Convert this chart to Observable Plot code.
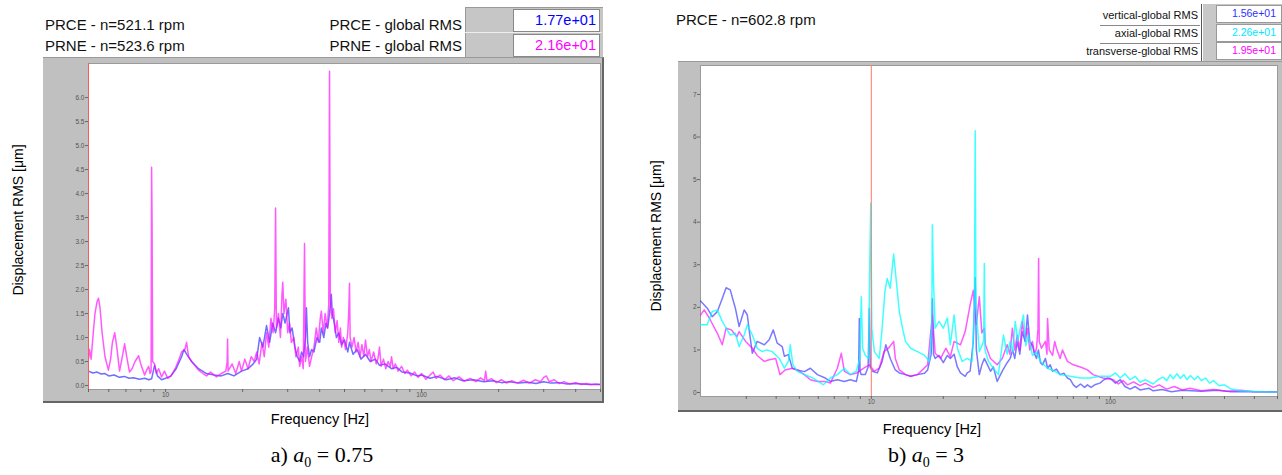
<!DOCTYPE html>
<html><head><meta charset="utf-8">
<script src="https://cdn.jsdelivr.net/npm/d3@7"></script>
<script src="https://cdn.jsdelivr.net/npm/@observablehq/plot@0.6"></script>
<style>
body{margin:0;width:1282px;height:475px;position:relative;background:#fff;font-family:Arial,"Liberation Sans",sans-serif;overflow:hidden}
.t{position:absolute;white-space:nowrap;color:#111;line-height:18px}
.box{position:absolute}
.panel{position:absolute;background:#c0c0c0}
.cap{position:absolute;font-family:"Liberation Serif","Times New Roman",serif;font-size:22px;white-space:nowrap;transform:translateX(-50%)}
.cap sub{font-size:14px}
.ytitle{position:absolute;font-size:14px;white-space:nowrap;transform:translate(-50%,-50%) rotate(-90deg)}
.xtitle{position:absolute;font-size:14.5px;white-space:nowrap;transform:translateX(-50%)}
</style></head><body>

<!-- panel a header -->
<div class="t" style="left:45px;top:16px;font-size:15px">PRCE - n=521.1 rpm</div>
<div class="t" style="left:45px;top:37px;font-size:15px">PRNE - n=523.6 rpm</div>
<div class="t" style="right:820px;top:16px;font-size:15px">PRCE - global RMS</div>
<div class="t" style="right:820px;top:37px;font-size:15px">PRNE - global RMS</div>
<div class="box" style="left:465px;top:7px;width:137px;height:50px;background:#c6c6c6;border-top:1px solid #999;border-left:1px solid #999"></div>
<div class="box" style="left:465px;top:32px;width:137px;height:1px;background:#eee"></div>
<div class="box" style="left:513px;top:9px;width:85px;height:21px;background:#fff;border:1px solid #888"></div>
<div class="box" style="left:513px;top:34px;width:85px;height:21px;background:#fff;border:1px solid #888"></div>
<div class="t" id="va1" style="right:686px;top:11px;font-size:14.5px;color:#0000ff"></div>
<div class="t" id="va2" style="right:686px;top:36px;font-size:14.5px;color:#ff00ff"></div>

<!-- panel b header -->
<div class="t" style="left:676px;top:11px;font-size:15px">PRCE - n=602.8 rpm</div>
<div class="t" style="right:84px;top:6px;font-size:11px">vertical-global RMS</div>
<div class="t" style="right:84px;top:24px;font-size:11px">axial-global RMS</div>
<div class="t" style="right:84px;top:42px;font-size:11px">transverse-global RMS</div>
<div class="box" style="left:1100px;top:25px;width:100px;height:1px;background:#888"></div>
<div class="box" style="left:1100px;top:43px;width:100px;height:1px;background:#888"></div>
<div class="box" style="left:1201px;top:4px;width:1px;height:57px;background:#555"></div>
<div class="box" style="left:1203px;top:4px;width:79px;height:57px;background:#c8c8c8"></div>
<div class="box" style="left:1216px;top:5px;width:64px;height:16px;background:#fff;border:1px solid #999"></div>
<div class="box" style="left:1216px;top:24px;width:64px;height:16px;background:#fff;border:1px solid #999"></div>
<div class="box" style="left:1216px;top:42px;width:64px;height:16px;background:#fff;border:1px solid #999"></div>
<div class="t" id="vb1" style="right:6px;top:4px;font-size:10.5px;color:#3030ff"></div>
<div class="t" id="vb2" style="right:6px;top:23px;font-size:10.5px;color:#00e8ff"></div>
<div class="t" id="vb3" style="right:6px;top:41px;font-size:10.5px;color:#ff00ff"></div>

<div class="panel" id="pa" style="left:43px;top:57px;width:559px;height:343px;border-top:1px solid #999;border-right:2px solid #666;border-bottom:2px solid #666"></div>
<div class="panel" id="pb" style="left:678px;top:61px;width:604px;height:348px;border-top:1px solid #999;border-bottom:2px solid #666"></div>

<div class="ytitle" style="left:18px;top:220px">Displacement RMS [μm]</div>
<div class="ytitle" style="left:656px;top:236px">Displacement RMS [μm]</div>
<div class="xtitle" style="left:320px;top:411px">Frequency [Hz]</div>
<div class="xtitle" style="left:932px;top:421px">Frequency [Hz]</div>
<div class="cap" style="left:322px;top:442px">a) <i>a</i><sub>0</sub> = 0.75</div>
<div class="cap" style="left:926px;top:442px">b) <i>a</i><sub>0</sub> = 3</div>

<script>
// ---------- header values ----------
const rmsA = ["1.77e+01", "2.16e+01"];            // PRCE, PRNE
const rmsB = ["1.56e+01", "2.26e+01", "1.95e+01"]; // vertical, axial, transverse

// ---------- axis ticks ----------
const aYTicks = [0,0.5,1,1.5,2,2.5,3,3.5,4,4.5,5,5.5,6];
const aXTicks = [5,6,7,8,9,10,20,30,40,50,60,70,80,90,100,200,300,400,500];
const bYTicks = [0,1,2,3,4,5,6,7];
const bXTicks = [3,4,5,6,7,8,9,10,20,30,40,50,60,70,80,90,100,200,300,400,500];
const labelledX = [10, 100];

// ---------- panel a: [frequency Hz, displacement RMS um] ----------
const aPRCE = [[5.0,0.3],[5.2,0.26],[5.4,0.28],[5.6,0.24],[5.8,0.25],[6.0,0.2],[6.3,0.22],[6.6,0.17],[6.9,0.19],[7.2,0.15],[7.5,0.16],[7.9,0.13],[8.3,0.15],[8.6,0.12],[8.82,0.14],[9.06,0.42],[9.3,0.2],[9.65,0.12],[10.0,0.15],[10.5,0.2],[11.0,0.35],[11.55,0.6],[11.8,0.75],[12.1,0.65],[12.64,0.5],[13.45,0.35],[14.45,0.25],[15.5,0.22],[16.5,0.2],[17.5,0.25],[18.5,0.2],[19.8,0.3],[21.0,0.35],[22.0,0.45],[22.7,0.55],[23.3,1.0],[24.0,0.8],[24.8,1.25],[25.5,0.9],[26.2,1.3],[26.9,1.1],[27.6,1.4],[28.2,1.2],[28.7,1.5],[29.3,1.3],[30.2,1.62],[30.6,1.1],[31.2,1.2],[32.0,0.8],[32.7,0.6],[33.4,0.5],[34.0,0.7],[34.6,0.6],[35.2,1.0],[35.5,1.62],[35.9,0.9],[36.5,0.6],[37.2,0.75],[38.0,0.7],[39.0,1.0],[40.0,0.9],[40.6,1.2],[41.5,1.0],[42.3,1.3],[43.0,1.2],[43.7,1.5],[44.4,1.9],[44.8,1.5],[45.6,1.3],[46.5,1.0],[47.5,1.1],[48.7,0.85],[50.0,0.95],[51.5,0.7],[52.3,0.9],[54.0,0.65],[56.0,0.75],[58.0,0.55],[60.4,0.65],[63.0,0.5],[66.0,0.55],[68.5,0.42],[72.0,0.45],[76.3,0.35],[80.0,0.38],[84.0,0.28],[90.0,0.26],[96.0,0.2],[100,0.22],[108,0.15],[115,0.19],[125,0.12],[135,0.16],[145,0.1],[160,0.12],[175,0.08],[190,0.1],[205,0.06],[220,0.08],[240,0.05],[260,0.07],[280,0.04],[300,0.08],[320,0.05],[345,0.06],[370,0.03],[400,0.04],[450,0.02],[500,0.02]];

const aPRNE = [[5.0,0.55],[5.05,0.75],[5.12,0.55],[5.2,1.0],[5.3,1.5],[5.4,1.75],[5.47,1.82],[5.55,1.6],[5.65,1.1],[5.8,0.6],[5.98,0.32],[6.1,0.55],[6.2,0.9],[6.33,1.1],[6.45,0.8],[6.61,0.3],[6.75,0.55],[6.92,0.87],[7.05,0.6],[7.23,0.28],[7.4,0.35],[7.6,0.5],[7.85,0.62],[8.0,0.45],[8.28,0.22],[8.4,0.3],[8.59,0.4],[8.7,0.25],[8.78,0.3],[8.82,4.55],[8.86,3.3],[8.9,0.5],[9.06,0.45],[9.2,0.25],[9.4,0.35],[9.65,0.18],[9.9,0.3],[10.2,0.15],[10.5,0.2],[10.9,0.35],[11.3,0.55],[11.55,0.7],[11.9,0.75],[12.08,0.9],[12.3,0.6],[12.64,0.5],[13.0,0.42],[13.45,0.32],[14.0,0.25],[14.45,0.2],[15.0,0.28],[15.8,0.18],[16.5,0.25],[17.2,0.3],[17.4,0.5],[17.47,0.97],[17.55,0.3],[18.2,0.45],[18.8,0.25],[19.4,0.5],[19.8,0.3],[20.4,0.55],[21.0,0.35],[21.6,0.6],[22.2,0.5],[22.7,0.7],[23.2,0.45],[23.8,0.9],[24.3,0.6],[24.8,1.1],[25.3,0.8],[25.8,1.4],[26.3,1.1],[26.7,1.6],[26.9,3.7],[27.1,1.2],[27.6,1.5],[28.1,1.0],[28.5,1.9],[28.7,2.15],[29.0,1.5],[29.5,1.8],[30.0,1.1],[30.5,1.3],[31.0,0.9],[31.7,1.0],[32.3,0.6],[33.0,0.8],[33.4,0.4],[34.0,0.6],[34.5,0.35],[34.9,2.96],[35.2,0.5],[35.8,0.8],[36.5,0.4],[37.2,0.6],[38.0,0.8],[38.8,1.2],[39.5,0.9],[40.2,1.4],[40.6,1.55],[41.3,1.1],[42.0,1.5],[42.8,1.2],[43.4,1.7],[43.7,6.55],[44.0,1.8],[44.6,1.4],[45.3,1.6],[46.0,1.1],[46.8,1.35],[47.5,0.9],[48.2,1.2],[48.7,0.8],[49.5,1.0],[50.5,0.75],[51.5,1.1],[52.0,1.6],[52.3,2.13],[52.6,1.0],[53.5,0.8],[54.5,1.0],[55.5,0.7],[56.5,0.9],[57.5,0.6],[58.5,0.85],[59.5,0.6],[60.4,0.95],[61.5,0.6],[62.5,0.75],[63.5,0.5],[65.0,0.7],[66.5,0.45],[67.5,0.55],[68.5,0.8],[69.5,0.4],[71.0,0.55],[72.5,0.35],[74.0,0.5],[75.5,0.4],[76.3,0.6],[77.5,0.35],[79.0,0.45],[81.0,0.3],[83.5,0.4],[86.0,0.25],[88.0,0.32],[91.0,0.2],[94.0,0.28],[97.0,0.17],[100,0.25],[104,0.13],[108,0.22],[111,0.28],[114,0.15],[118,0.22],[123,0.12],[128,0.2],[133,0.1],[140,0.18],[147,0.09],[155,0.15],[163,0.08],[170,0.16],[176,0.1],[178,0.3],[180,0.1],[188,0.14],[196,0.06],[205,0.12],[215,0.05],[225,0.1],[237,0.05],[250,0.11],[264,0.05],[278,0.12],[292,0.08],[300,0.17],[307,0.2],[315,0.08],[330,0.12],[345,0.04],[360,0.08],[380,0.03],[400,0.06],[420,0.02],[440,0.04],[460,0.02],[480,0.03],[500,0.02]];

// ---------- panel b ----------
const bVertical = [[1.93,2.15],[2.06,1.98],[2.16,1.78],[2.27,1.9],[2.38,2.21],[2.47,2.46],[2.57,2.41],[2.70,1.98],[2.80,1.55],[2.94,1.94],[3.03,1.82],[3.09,1.43],[3.18,0.92],[3.33,1.2],[3.57,1.12],[3.74,1.24],[3.89,1.47],[4.04,1.16],[4.24,1.08],[4.33,0.85],[4.50,0.89],[4.67,0.57],[4.90,0.53],[5.25,0.49],[5.56,0.57],[5.95,0.42],[6.42,0.34],[6.74,0.26],[7.21,0.3],[7.71,0.26],[8.16,0.3],[8.66,0.26],[8.85,0.5],[8.91,1.74],[8.97,0.5],[9.08,0.42],[9.44,0.42],[9.7,0.6],[9.81,1.98],[9.9,0.6],[10.1,0.5],[10.6,0.46],[11.1,0.73],[11.5,1.12],[12.0,0.8],[12.6,0.53],[13.1,0.46],[13.9,0.42],[14.6,0.38],[15.6,0.42],[16.7,0.45],[17.2,0.53],[17.8,0.9],[18.0,2.2],[18.2,0.9],[18.5,0.8],[19.2,0.87],[20.0,0.7],[20.8,0.87],[21.4,0.8],[22.2,0.9],[22.9,0.6],[23.6,0.46],[24.7,0.38],[25.2,0.46],[25.9,0.5],[26.7,1.2],[27.2,2.7],[27.5,1.0],[28.3,0.42],[29.0,0.65],[29.7,0.8],[30.9,0.6],[31.5,0.5],[32.4,0.6],[33.6,0.26],[35.3,0.5],[37.0,0.7],[38.1,0.8],[39.0,1.0],[39.8,0.8],[40.8,1.2],[41.8,0.9],[42.8,1.43],[44.0,1.2],[45.0,1.82],[46.0,1.2],[47.2,1.1],[48.2,0.9],[49.1,0.8],[50.0,1.0],[51.0,0.7],[52.0,0.65],[53.5,0.8],[54.6,0.57],[56.0,0.65],[57.3,0.5],[59.5,0.55],[61.6,0.42],[64.0,0.45],[66.1,0.34],[68.0,0.3],[70.0,0.18],[72.0,0.12],[75.0,0.2],[78.0,0.12],[80.2,0.18],[83.0,0.12],[86.0,0.18],[90.4,0.22],[94.0,0.3],[97.5,0.34],[100,0.33],[105,0.22],[110,0.3],[115,0.14],[121,0.08],[127,0.14],[133,0.06],[145,0.1],[151,0.04],[165,0.07],[180,0.02],[200,0.05],[240,0.03],[280,0.05],[320,0.02],[400,0.02],[500,0.01]];

const bAxial = [[1.93,1.59],[2.06,1.59],[2.16,1.9],[2.27,1.94],[2.38,1.67],[2.57,1.35],[2.70,1.39],[2.80,1.08],[2.94,1.35],[3.03,1.59],[3.18,1.35],[3.33,1.04],[3.50,0.96],[3.65,1.0],[3.85,0.96],[4.12,0.8],[4.33,0.57],[4.50,0.73],[4.58,1.12],[4.70,0.65],[4.90,0.5],[5.25,0.42],[5.70,0.34],[6.0,0.26],[6.3,0.18],[6.74,0.34],[7.21,0.42],[7.71,0.57],[8.16,0.42],[8.66,0.5],[8.95,0.8],[9.08,2.25],[9.2,1.04],[9.44,0.87],[9.75,0.8],[9.85,3.0],[9.95,4.45],[10.05,1.5],[10.3,0.96],[10.8,0.8],[11.1,1.51],[11.4,2.37],[11.65,2.68],[12.0,2.45],[12.4,3.25],[12.6,2.86],[13.1,1.9],[13.5,1.51],[13.9,1.2],[14.6,1.04],[15.6,0.96],[16.7,0.87],[17.5,0.73],[17.9,1.5],[18.0,3.94],[18.2,2.6],[18.5,1.51],[19.2,1.67],[20.0,1.51],[20.8,1.75],[21.4,1.12],[22.2,1.82],[22.9,1.04],[24.0,0.73],[25.2,0.8],[26.4,0.73],[27.0,2.0],[27.2,6.15],[27.4,2.0],[28.3,0.96],[29.5,1.2],[29.7,3.03],[29.9,1.0],[30.9,0.73],[32.4,0.57],[34.0,0.42],[35.7,1.35],[37.0,0.9],[38.1,1.2],[39.0,0.95],[40.0,1.67],[41.0,1.2],[42.0,1.51],[43.3,1.82],[44.3,1.1],[45.4,1.35],[47.2,0.87],[49.0,0.95],[51.0,0.73],[54.6,0.57],[58.5,0.5],[61.6,0.42],[68.0,0.38],[74.9,0.34],[82.3,0.34],[90.4,0.38],[100,0.38],[105,0.46],[110,0.34],[115,0.44],[121,0.3],[127,0.38],[133,0.24],[140,0.3],[151,0.2],[158,0.3],[166,0.36],[172,0.28],[178,0.42],[183,0.32],[190,0.44],[196,0.33],[203,0.42],[209,0.3],[216,0.4],[225,0.3],[232,0.38],[240,0.28],[250,0.34],[260,0.22],[270,0.28],[285,0.16],[300,0.18],[320,0.08],[350,0.04],[424,0.02],[500,0.01]];

const bTransverse = [[1.93,1.82],[2.0,1.94],[2.1,1.75],[2.27,1.39],[2.38,1.12],[2.47,1.51],[2.6,1.47],[2.74,1.31],[2.80,1.43],[2.98,1.2],[3.18,1.04],[3.33,0.87],[3.57,0.73],[3.74,0.77],[3.98,0.8],[4.15,0.42],[4.36,0.53],[4.67,0.57],[4.90,0.53],[5.25,0.42],[5.56,0.3],[5.95,0.26],[6.42,0.26],[6.74,0.22],[7.21,0.57],[7.49,0.92],[7.71,0.5],[8.16,0.42],[8.7,0.46],[9.3,0.57],[9.8,0.65],[10.3,0.5],[10.8,0.57],[11.3,0.96],[11.8,1.04],[12.4,1.2],[12.6,0.8],[13.1,0.53],[13.9,0.42],[14.6,0.38],[15.6,0.42],[17.2,0.65],[18.0,1.82],[18.5,0.92],[19.5,0.8],[20.5,1.04],[21.4,0.84],[22.2,1.2],[23.6,1.12],[24.7,1.43],[25.9,2.06],[26.7,2.4],[27.5,1.6],[28.3,2.25],[29.0,1.4],[29.7,1.51],[30.0,1.12],[31.5,0.8],[33.6,0.65],[35.3,0.8],[37.0,1.12],[38.0,0.9],[38.9,1.51],[39.8,1.0],[40.8,1.35],[41.8,1.0],[42.8,1.67],[44.0,1.2],[45.0,1.51],[46.0,1.0],[47.2,1.2],[48.2,0.9],[49.1,1.04],[49.8,1.5],[50.1,3.15],[50.4,1.2],[51.5,1.04],[53.5,1.2],[54.3,0.9],[54.6,1.74],[55.5,1.0],[57.3,0.87],[58.5,1.2],[59.5,1.04],[61.6,0.8],[63.0,1.0],[66.1,0.73],[70.0,0.65],[74.9,0.6],[80.2,0.53],[84.5,0.42],[93.1,0.34],[103,0.3],[108,0.2],[113,0.28],[118,0.18],[125,0.25],[133,0.16],[140,0.22],[151,0.12],[160,0.18],[172,0.08],[185,0.14],[200,0.06],[215,0.1],[240,0.04],[270,0.07],[308,0.03],[350,0.05],[400,0.02],[500,0.02]];

document.getElementById("va1").textContent = rmsA[0];
document.getElementById("va2").textContent = rmsA[1];
document.getElementById("vb1").textContent = rmsB[0];
document.getElementById("vb2").textContent = rmsB[1];
document.getElementById("vb3").textContent = rmsB[2];

function spectrum(o) {
  return Plot.plot({
    width: o.width, height: o.height,
    marginLeft: o.ml, marginRight: o.mr, marginTop: o.mt, marginBottom: o.mb,
    style: {background: "transparent", fontFamily: "Arial, sans-serif", color: "#555", overflow: "visible"},
    x: {type: "log", domain: o.xdom},
    y: {domain: o.ydom},
    marks: [
      Plot.frame({fill: "white", stroke: "#9a9a9a"}),
      Plot.axisY({ticks: o.yticks, tickFormat: o.yfmt, tickSize: 3, tickPadding: 1, fontSize: 6.5, label: null, stroke: "#666"}),
      Plot.axisX({ticks: o.xticks, tickFormat: d => labelledX.includes(d) ? String(d) : "", tickSize: 3, tickPadding: 0, fontSize: 6.5, label: null, stroke: "#666"}),
      ...o.series.map(s => Plot.line(s.data, {x: d => d[0], y: d => d[1], stroke: s.color, strokeWidth: s.w, strokeOpacity: s.op, clip: true})),
      Plot.ruleX([o.redX], {stroke: o.redColor, strokeWidth: 1})
    ]
  });
}

document.getElementById("pa").append(spectrum({
  width: 559, height: 343, ml: 45, mr: 2, mt: 5, mb: 12,
  xdom: [5, 500], ydom: [-0.083, 6.71],
  yticks: aYTicks, yfmt: d3.format(".1f"), xticks: aXTicks,
  redX: 5, redColor: "#ff5a5a",
  series: [
    {data: aPRCE, color: "#2020ff", w: 1.5, op: 0.65},
    {data: aPRNE, color: "#ff00ff", w: 1.5, op: 0.65}
  ]
}));

document.getElementById("pb").append(spectrum({
  width: 604, height: 348, ml: 22, mr: 5, mt: 3, mb: 14,
  xdom: [1.93, 500], ydom: [-0.094, 7.68],
  yticks: bYTicks, yfmt: d3.format("d"), xticks: bXTicks,
  redX: 10, redColor: "#ff7a6a",
  series: [
    {data: bVertical, color: "#2020ff", w: 1.5, op: 0.6},
    {data: bTransverse, color: "#ff00ff", w: 1.5, op: 0.65},
    {data: bAxial, color: "#00ffff", w: 1.5, op: 0.75}
  ]
}));
</script>
</body></html>
